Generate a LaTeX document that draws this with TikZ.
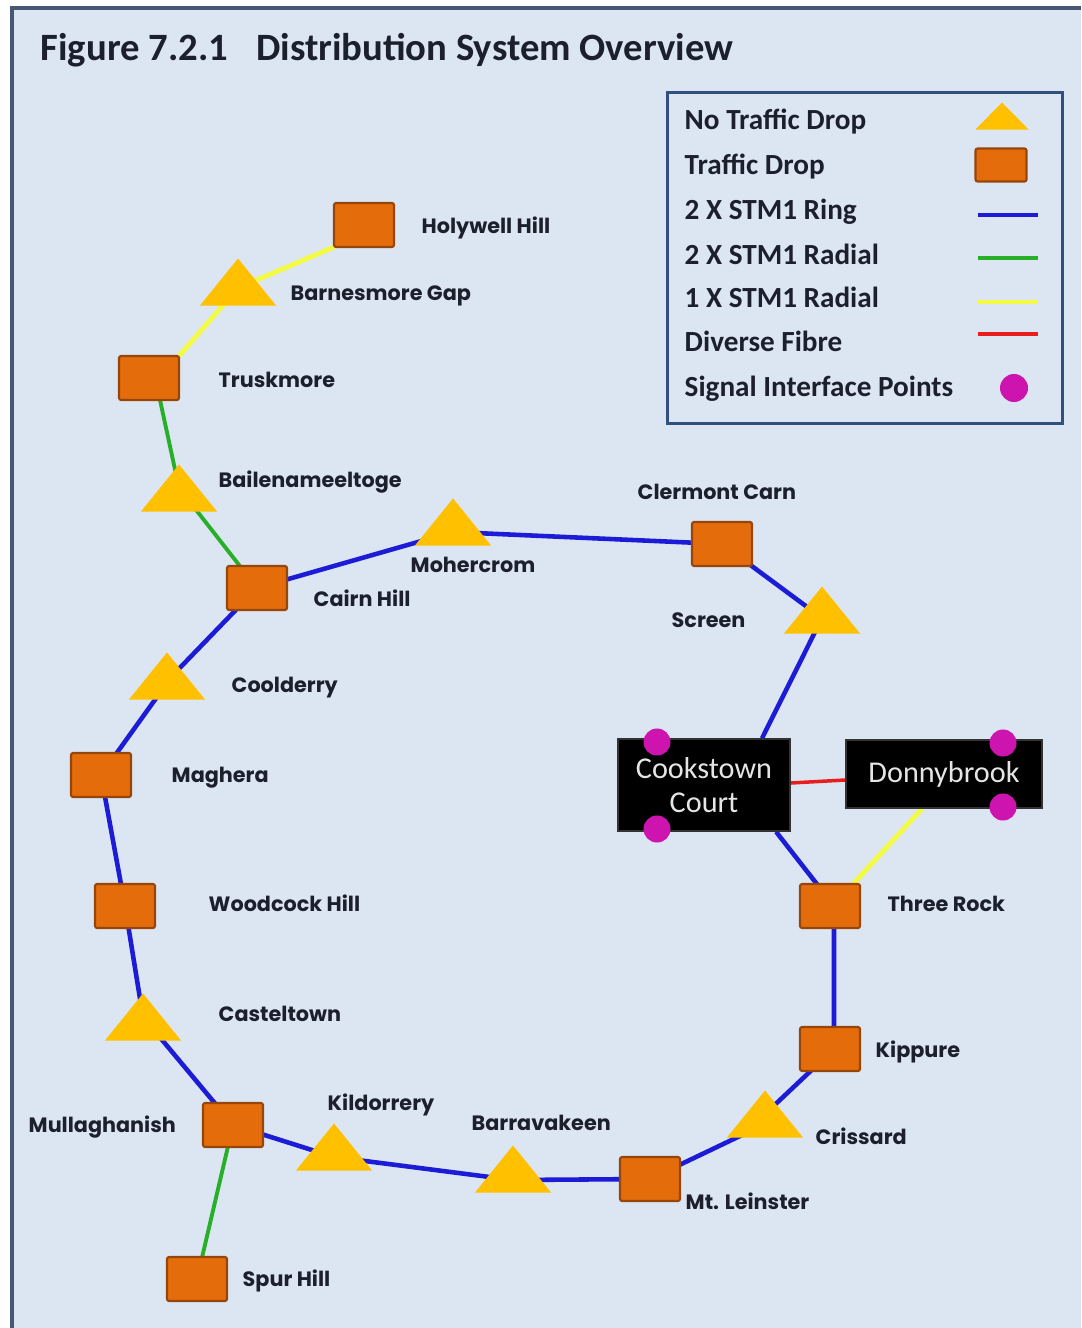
\documentclass[tikz,border=0pt]{standalone}
\usepackage{fontspec}
\setmainfont{Carlito}
\newfontfamily\lblfont{Poppins}
\usetikzlibrary{calc}
\pgfdeclarelayer{bg}
\pgfdeclarelayer{edges}
\pgfsetlayers{bg,edges,main}
\definecolor{bgblue}{RGB}{220,230,242}
\definecolor{framecol}{RGB}{70,88,115}
\definecolor{legline}{RGB}{50,80,125}
\definecolor{sqfill}{RGB}{228,108,10}
\definecolor{sqline}{RGB}{150,70,10}
\definecolor{trifill}{RGB}{255,192,0}
\definecolor{ringcol}{RGB}{28,28,215}
\definecolor{radcol}{RGB}{40,175,40}
\definecolor{onecol}{RGB}{242,250,70}
\definecolor{divcol}{RGB}{232,30,30}
\definecolor{sipcol}{RGB}{205,20,175}
\definecolor{txtcol}{RGB}{28,32,45}
\tikzset{
  sq/.style={draw=sqline, fill=sqfill, line width=0.6pt, rounded corners=0.6pt,
    minimum width=0.60cm, minimum height=0.44cm, inner sep=0pt, outer sep=0pt},
  tri/.style={minimum width=0.76cm, minimum height=0.47cm, inner sep=0pt, outer sep=0pt,
    path picture={\fill[trifill] (path picture bounding box.south west) --
      (path picture bounding box.south east) -- (path picture bounding box.north) -- cycle;}},
  lbl/.style={font=\lblfont\bfseries\fontsize{5.9}{7}\selectfont, text=txtcol,
    anchor=west, inner sep=0pt, text height=4.2pt, text depth=0pt},
  legtxt/.style={font=\bfseries\fontsize{8.3}{9.5}\selectfont, text=txtcol,
    anchor=west, inner sep=0pt, text height=5.4pt, text depth=0pt},
  blackbox/.style={fill=black, draw=black!80, text=white!90!black, align=center,
    font=\fontsize{8.6}{9.7}\selectfont, inner sep=0pt},
  sip/.style={circle, fill=sipcol, minimum size=0.27cm, inner sep=0pt},
  ring/.style={draw=ringcol, line width=1.3pt},
  rad2/.style={draw=radcol, line width=1.1pt},
  rad1/.style={draw=onecol, line width=1.4pt},
  diverse/.style={draw=divcol, line width=1.0pt}
}
\begin{document}
\begin{tikzpicture}[x=0.01cm, y=-0.01cm]
\useasboundingbox (0,0) rectangle (1081,1328);
\begin{pgfonlayer}{bg}
  \fill[white] (0,0) rectangle (1081,1328);
  \fill[bgblue] (12,8) rectangle (1081,1328);
  \draw[framecol, line width=1pt] (12,1328) -- (12,8) -- (1081,8);
\end{pgfonlayer}

% title
\node[anchor=west, inner sep=0pt, text=txtcol, font=\bfseries\fontsize{11}{13}\selectfont] (title) at (40,50)
  {Figure 7.2.1\hspace{0.5em} Distribution System Overview};

% legend
\node[draw=legline, line width=0.85pt, minimum width=3.95cm, minimum height=3.30cm, inner sep=0pt] (legend) at (865,258) {};
\node[legtxt] (lt1) at (684,120) {No Traffic Drop};
\node[legtxt] (lt2) at (684,165) {Traffic Drop};
\node[legtxt] (lt3) at (684,210) {2 X STM1 Ring};
\node[legtxt] (lt4) at (684,255) {2 X STM1 Radial};
\node[legtxt] (lt5) at (684,298) {1 X STM1 Radial};
\node[legtxt] (lt6) at (684,342) {Diverse Fibre};
\node[legtxt] (lt7) at (684,387) {Signal Interface Points};
\node[tri, minimum width=0.53cm, minimum height=0.27cm] (ls1) at (1002,116) {};
\node[sq, minimum width=0.51cm, minimum height=0.33cm] (ls2) at (1001,165) {};
\coordinate (la3) at (978,215); \coordinate (lb3) at (1038,215);
\coordinate (la4) at (978,258); \coordinate (lb4) at (1038,258);
\coordinate (la5) at (978,302); \coordinate (lb5) at (1038,302);
\coordinate (la6) at (978,334); \coordinate (lb6) at (1038,334);
\draw[ring, line width=1.1pt] (la3) -- (lb3);
\draw[rad2, line width=1.0pt] (la4) -- (lb4);
\draw[rad1, line width=1.3pt] (la5) -- (lb5);
\draw[diverse] (la6) -- (lb6);
\node[sip, minimum size=0.28cm] (ls7) at (1014,388) {};

% sites
\node[sq]  (hw) at (364,225) {};
\node[tri] (bmg) at (238,282) {};
\node[sq]  (tk) at (149,378) {};
\node[tri] (bl) at (179,488) {};
\node[sq]  (ch) at (257,588) {};
\node[tri] (mo) at (453,522) {};
\node[sq]  (cl) at (722,544) {};
\node[tri] (sc) at (822,610) {};
\node[tri] (co) at (167,676) {};
\node[sq]  (mg) at (101,775) {};
\node[sq]  (wc) at (125,906) {};
\node[tri] (ct) at (143,1017) {};
\node[sq]  (mu) at (233,1125) {};
\node[sq]  (sp) at (197,1279) {};
\node[tri] (kd) at (334,1147) {};
\node[tri] (bv) at (513,1169) {};
\node[sq]  (ml) at (650,1179) {};
\node[tri] (cr) at (765,1114) {};
\node[sq]  (kp) at (830,1049) {};
\node[sq]  (tr) at (830,906) {};
\node[blackbox, minimum width=1.72cm, minimum height=0.92cm] (cc) at (704,785) {Cookstown\\Court};
\node[blackbox, minimum width=1.96cm, minimum height=0.68cm] (db) at (944,774) {Donnybrook};
\node[sip] (s1) at (657,742) {};
\node[sip] (s2) at (657,829) {};
\node[sip] (s3) at (1003,743) {};
\node[sip] (s4) at (1003,807) {};

% labels
\node[lbl] (l1) at (421,226) {Holywell Hill};
\node[lbl] (l2) at (290,293) {Barnesmore Gap};
\node[lbl] (l3) at (218,380) {Truskmore};
\node[lbl] (l4) at (218,480) {Bailenameeltoge};
\node[lbl] (l5) at (410,565) {Mohercrom};
\node[lbl] (l6) at (313,599) {Cairn Hill};
\node[lbl] (l7) at (637,492) {Clermont Carn};
\node[lbl] (l8) at (671,620) {Screen};
\node[lbl] (l9) at (231,685) {Coolderry};
\node[lbl] (l10) at (171,775) {Maghera};
\node[lbl] (l11) at (208,904) {Woodcock Hill};
\node[lbl] (l12) at (218,1014) {Casteltown};
\node[lbl] (l13) at (28,1125) {Mullaghanish};
\node[lbl] (l14) at (327,1103) {Kildorrery};
\node[lbl] (l15) at (471,1123) {Barravakeen};
\node[lbl] (l16) at (685,1202) {Mt. Leinster};
\node[lbl] (l17) at (815,1137) {Crissard};
\node[lbl] (l18) at (875,1050) {Kippure};
\node[lbl] (l19) at (887,904) {Three Rock};
\node[lbl] (l20) at (242,1279) {Spur Hill};

% connectors
\begin{pgfonlayer}{edges}
  \draw[rad1] (hw.south west) -- ([yshift=-0.06cm]bmg.center) -- (tk.north east);
  \draw[rad2] ([xshift=0.11cm]tk.south) -- (bl.center) -- (ch.center);
  \draw[rad2] (mu.center) -- (sp.center);
  \draw[ring] (ch.center) -- ([yshift=-0.1cm]mo.center) -- (cl.center)
    -- ([yshift=-0.08cm]sc.center) -- ([xshift=0.58cm]cc.north);
  \draw[ring] ([xshift=0.72cm]cc.south) -- ([xshift=0.04cm]tr.center)
    -- ([xshift=0.04cm]kp.center) -- (cr.center);
  \draw[ring] ([yshift=-0.1cm]cr.center) -- (ml.center) -- ([yshift=-0.11cm]bv.center)
    -- ([yshift=-0.1cm]kd.center) -- (mu.center) -- (ct.center) -- (wc.center)
    -- (mg.center) -- ([xshift=0.05cm]co.center) -- (ch.center);
  \draw[diverse] ([yshift=0.02cm]cc.east) -- ([yshift=-0.06cm]db.west);
  \draw[rad1] ([xshift=-0.22cm]db.south) -- ([xshift=0.23cm]tr.north);
\end{pgfonlayer}
\end{tikzpicture}
\end{document}
